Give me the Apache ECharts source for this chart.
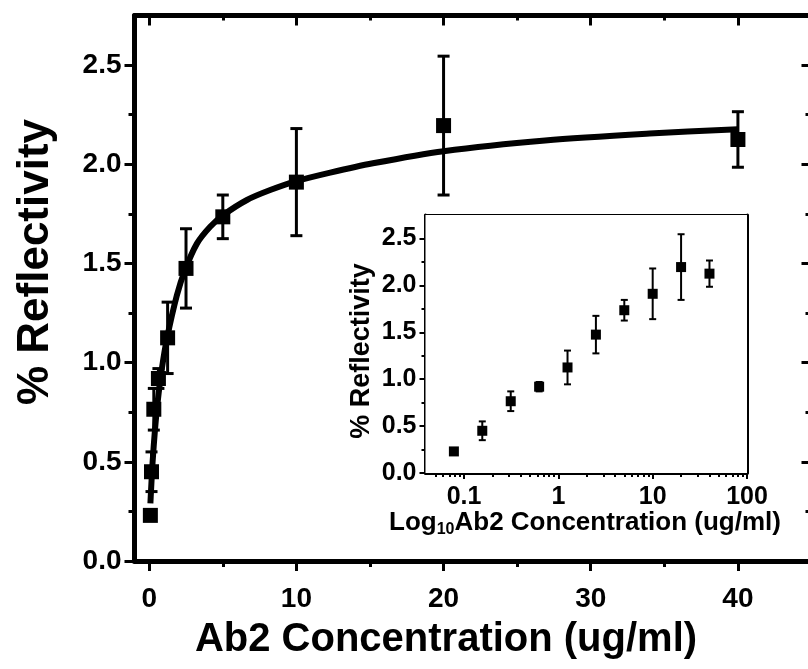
<!DOCTYPE html>
<html>
<head>
<meta charset="utf-8">
<script src="https://cdn.jsdelivr.net/npm/echarts@6/dist/echarts.min.js"></script>
<style>
  html, body { margin: 0; padding: 0; background: #fff; }
  #chart { width: 808px; height: 669px; }
</style>
</head>
<body>
<div id="chart"></div>
<script>
// Ab2 concentrations (ug/ml) and measured % reflectivity with errors
const conc = [0.078, 0.156, 0.3125, 0.625, 1.25, 2.5, 5, 10, 20, 40];
const reflect = [0.23, 0.45, 0.765, 0.92, 1.125, 1.475, 1.735, 1.91, 2.195, 2.125];
const reflectErr = [0.02, 0.10, 0.105, 0.05, 0.18, 0.20, 0.11, 0.27, 0.35, 0.14];

// Fitted binding curve
const fitConc = [0.08, 0.12, 0.23, 0.39, 0.57, 0.86, 1.2, 1.88, 2.45, 3.24, 4.14, 5.05, 6.64, 8.22, 10, 12.3, 15.2, 20, 26.9, 34, 40];
const fitReflect = [0.29, 0.35, 0.50, 0.66, 0.80, 0.97, 1.12, 1.34, 1.47, 1.60, 1.685, 1.745, 1.82, 1.87, 1.915, 1.958, 2.005, 2.066, 2.12, 2.155, 2.177];

// Tick positions
const mainXMajor = [0, 10, 20, 30, 40];
const mainXMinor = [5, 15, 25, 35];
const yMajor = [0, 0.5, 1, 1.5, 2, 2.5];
const yMinor = [0.25, 0.75, 1.25, 1.75, 2.25];
const logMajor = [0.1, 1, 10, 100];
const logMinor = [0.05, 0.06, 0.07, 0.08, 0.09, 0.2, 0.3, 0.4, 0.5, 0.6, 0.7, 0.8, 0.9,
                  2, 3, 4, 5, 6, 7, 8, 9, 20, 30, 40, 50, 60, 70, 80, 90];

const FONT = '"Liberation Sans", Arial, sans-serif';
const points = conc.map((x, i) => [x, reflect[i]]);
const bars = conc.map((x, i) => [x, reflect[i] - reflectErr[i], reflect[i] + reflectErr[i]]);
const fit = fitConc.map((x, i) => [x, fitReflect[i]]);

function errorBars(capHalf, lw) {
  return function (params, api) {
    const x = api.value(0);
    const lo = api.coord([x, api.value(1)]);
    const hi = api.coord([x, api.value(2)]);
    const st = { stroke: '#000', lineWidth: lw };
    return {
      type: 'group',
      children: [
        { type: 'line', shape: { x1: hi[0], y1: hi[1], x2: lo[0], y2: lo[1] }, style: st },
        { type: 'line', shape: { x1: hi[0] - capHalf, y1: hi[1], x2: hi[0] + capHalf, y2: hi[1] }, style: st },
        { type: 'line', shape: { x1: lo[0] - capHalf, y1: lo[1], x2: lo[0] + capHalf, y2: lo[1] }, style: st }
      ]
    };
  };
}

// builds one axis; a major axis carries the line (and labels), a minor one only short ticks
function axis(o) {
  const a = {
    type: o.type || 'value',
    gridIndex: o.grid,
    position: o.position,
    min: o.min, max: o.max,
    splitLine: { show: false },
    axisLine: { show: !!o.lineWidth, onZero: false, lineStyle: { color: '#000', width: o.lineWidth || 1 } },
    axisTick: { show: true, inside: !!o.inside, length: o.tickLen, customValues: o.ticks,
                lineStyle: { color: '#000', width: o.tickWidth } },
    axisLabel: { show: false },
    minorTick: { show: false },
    minorSplitLine: { show: false }
  };
  if (o.labels) {
    a.axisLabel = {
      show: true, customValues: o.labels, margin: o.margin,
      color: '#000', fontFamily: FONT, fontWeight: 'bold', fontSize: o.fontSize,
      formatter: o.formatter
    };
  }
  return a;
}

const yFmt = v => Number(v).toFixed(1);
const logFmt = v => String(Number(v.toPrecision(3)));

const xAxes = [
  // main plot
  axis({ grid: 0, position: 'bottom', min: -1, max: 45, lineWidth: 5, ticks: mainXMajor, tickLen: 10, tickWidth: 3,
         labels: mainXMajor, margin: 24, fontSize: 28 }),
  axis({ grid: 0, position: 'bottom', min: -1, max: 45, ticks: mainXMinor, tickLen: 6, tickWidth: 3 }),
  axis({ grid: 0, position: 'top', min: -1, max: 45, lineWidth: 5, inside: true, ticks: mainXMajor, tickLen: 10, tickWidth: 3 }),
  axis({ grid: 0, position: 'top', min: -1, max: 45, inside: true, ticks: mainXMinor, tickLen: 5, tickWidth: 3 }),
  // inset, logarithmic
  axis({ grid: 1, type: 'log', position: 'bottom', min: 0.039, max: 100, lineWidth: 3, ticks: logMajor, tickLen: 6, tickWidth: 2,
         labels: logMajor, margin: 12, fontSize: 25, formatter: logFmt }),
  axis({ grid: 1, type: 'log', position: 'bottom', min: 0.039, max: 100, ticks: logMinor, tickLen: 4, tickWidth: 2 }),
  axis({ grid: 1, type: 'log', position: 'top', min: 0.039, max: 100, lineWidth: 3, inside: true, ticks: logMajor, tickLen: 6, tickWidth: 2 }),
  axis({ grid: 1, type: 'log', position: 'top', min: 0.039, max: 100, inside: true, ticks: logMinor, tickLen: 4, tickWidth: 2 })
];

const yAxes = [
  axis({ grid: 0, position: 'left', min: 0, max: 2.75, lineWidth: 5, ticks: yMajor, tickLen: 10, tickWidth: 3,
         labels: yMajor, margin: 13, fontSize: 28, formatter: yFmt }),
  axis({ grid: 0, position: 'left', min: 0, max: 2.75, ticks: yMinor, tickLen: 6, tickWidth: 3 }),
  axis({ grid: 0, position: 'right', min: 0, max: 2.75, lineWidth: 5, inside: true, ticks: yMajor, tickLen: 10, tickWidth: 3 }),
  axis({ grid: 0, position: 'right', min: 0, max: 2.75, inside: true, ticks: yMinor, tickLen: 6, tickWidth: 3 }),
  axis({ grid: 1, position: 'left', min: 0, max: 2.75, lineWidth: 3, ticks: yMajor, tickLen: 6, tickWidth: 2,
         labels: yMajor, margin: 9, fontSize: 25, formatter: yFmt }),
  axis({ grid: 1, position: 'left', min: 0, max: 2.75, ticks: yMinor, tickLen: 4, tickWidth: 2 }),
  axis({ grid: 1, position: 'right', min: 0, max: 2.75, lineWidth: 3, inside: true, ticks: yMajor, tickLen: 6, tickWidth: 2 }),
  axis({ grid: 1, position: 'right', min: 0, max: 2.75, inside: true, ticks: yMinor, tickLen: 4, tickWidth: 2 })
];

const chart = echarts.init(document.getElementById('chart'), null, { renderer: 'canvas' });
chart.setOption({
  animation: false,
  backgroundColor: '#fff',
  grid: [
    // the main frame runs a little past the right edge of the canvas
    { left: 134.5, top: 15.5, width: 677, bottom: 108, containLabel: false, outerBoundsMode: 'none' },
    { left: 425.5, top: 215, right: 61, bottom: 196, containLabel: false, outerBoundsMode: 'none',
      show: true, backgroundColor: '#fff', borderWidth: 0, z: 5 }
  ],
  xAxis: xAxes,
  yAxis: yAxes,
  series: [
    { type: 'line', xAxisIndex: 0, yAxisIndex: 0, data: fit, showSymbol: false, smooth: 0.3,
      lineStyle: { color: '#000', width: 6, join: 'round' }, z: 2 },
    { type: 'custom', xAxisIndex: 0, yAxisIndex: 0, data: bars, encode: { x: 0, y: [1, 2] },
      renderItem: errorBars(6, 3), z: 3 },
    { type: 'scatter', xAxisIndex: 0, yAxisIndex: 0, data: points, symbol: 'rect', symbolSize: 15,
      itemStyle: { color: '#000', opacity: 1 }, z: 4 },
    { type: 'custom', xAxisIndex: 4, yAxisIndex: 4, data: bars, encode: { x: 0, y: [1, 2] },
      renderItem: errorBars(3.5, 2), z: 6 },
    { type: 'scatter', xAxisIndex: 4, yAxisIndex: 4, data: points, symbol: 'rect', symbolSize: 10,
      itemStyle: { color: '#000', opacity: 1 }, z: 7 }
  ],
  graphic: [
    { type: 'text', x: 36, y: 262, rotation: Math.PI / 2, z: 10,
      style: { text: '% Reflectivity', fill: '#000', font: 'bold 44px ' + FONT, align: 'center', verticalAlign: 'middle' } },
    { type: 'text', x: 446, y: 640, z: 10,
      style: { text: 'Ab2 Concentration (ug/ml)', fill: '#000', font: 'bold 40px ' + FONT, align: 'center', verticalAlign: 'middle' } },
    { type: 'text', x: 362, y: 351, rotation: Math.PI / 2, z: 10,
      style: { text: '% Reflectivity', fill: '#000', font: 'bold 27px ' + FONT, align: 'center', verticalAlign: 'middle' } },
    { type: 'text', x: 585, y: 523, z: 10,
      style: {
        text: '{a|Log}{s|10}{a|Ab2 Concentration (ug/ml)}', align: 'center', verticalAlign: 'middle',
        rich: {
          a: { fill: '#000', fontFamily: FONT, fontWeight: 'bold', fontSize: 26, lineHeight: 30, verticalAlign: 'middle' },
          s: { fill: '#000', fontFamily: FONT, fontWeight: 'bold', fontSize: 16, lineHeight: 30, padding: [14, 0, 0, 0], verticalAlign: 'middle' }
        }
      } }
  ]
});
</script>
</body>
</html>
